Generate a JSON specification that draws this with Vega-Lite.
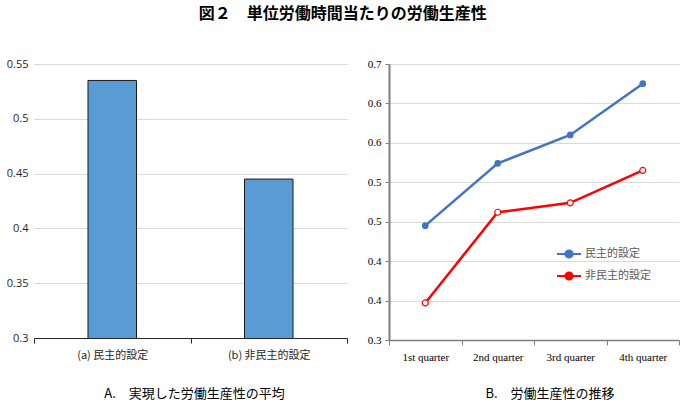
{
  "$schema": "https://vega.github.io/schema/vega-lite/v6.json",
  "padding": {"left": 6, "top": 6, "right": 4, "bottom": 4},
  "title": {
    "text": "図２　単位労働時間当たりの労働生産性",
    "font": "Noto Sans CJK JP",
    "fontSize": 16,
    "fontWeight": "bold",
    "color": "#000000",
    "anchor": "middle",
    "offset": 36
  },
  "datasets": {
    "avg": [
      {"setting": "(a) 民主的設定", "value": 0.535},
      {"setting": "(b) 非民主的設定", "value": 0.445}
    ],
    "trend": [
      {"quarter": "1st quarter", "setting": "民主的設定", "value": 0.495},
      {"quarter": "2nd quarter", "setting": "民主的設定", "value": 0.574},
      {"quarter": "3rd quarter", "setting": "民主的設定", "value": 0.61},
      {"quarter": "4th quarter", "setting": "民主的設定", "value": 0.675},
      {"quarter": "1st quarter", "setting": "非民主的設定", "value": 0.397},
      {"quarter": "2nd quarter", "setting": "非民主的設定", "value": 0.512},
      {"quarter": "3rd quarter", "setting": "非民主的設定", "value": 0.524},
      {"quarter": "4th quarter", "setting": "非民主的設定", "value": 0.565}
    ]
  },
  "spacing": 19,
  "hconcat": [
    {
      "width": 313,
      "height": 274,
      "data": {"name": "avg"},
      "title": {
        "text": "A.　実現した労働生産性の平均",
        "orient": "bottom",
        "anchor": "middle",
        "dx": 4,
        "offset": 28,
        "font": "Noto Sans CJK JP",
        "fontSize": 13,
        "fontWeight": "normal",
        "color": "#000000"
      },
      "mark": {
        "type": "bar",
        "width": {"band": 0.31},
        "color": "#5B9BD5",
        "stroke": "#1a1a1a",
        "strokeWidth": 1,
        "clip": true
      },
      "encoding": {
        "x": {
          "field": "setting",
          "type": "nominal",
          "title": null,
          "sort": null,
          "scale": {"paddingInner": 0, "paddingOuter": 0},
          "axis": {
            "labelAngle": 0,
            "labelFont": "Noto Sans CJK JP",
            "labelFontSize": 11,
            "labelColor": "#262626",
            "labelPadding": 6,
            "tickBand": "extent",
            "tickSize": 5,
            "tickColor": "#262626",
            "domainColor": "#262626",
            "grid": false
          }
        },
        "y": {
          "field": "value",
          "type": "quantitative",
          "title": null,
          "scale": {"domain": [0.3, 0.55], "zero": false, "nice": false},
          "axis": {
            "values": [0.3, 0.35, 0.4, 0.45, 0.5, 0.55],
            "format": ".2~f",
            "domain": false,
            "ticks": false,
            "labelFont": "Open Sans",
            "labelFontSize": 11,
            "labelColor": "#262626",
            "labelPadding": 6,
            "gridColor": "#d9d9d9"
          }
        }
      }
    },
    {
      "width": 290,
      "height": 276,
      "data": {"name": "trend"},
      "title": {
        "text": "B.　労働生産性の推移",
        "orient": "bottom",
        "anchor": "middle",
        "dx": 16,
        "offset": 26,
        "font": "Noto Sans CJK JP",
        "fontSize": 13,
        "fontWeight": "normal",
        "color": "#000000"
      },
      "encoding": {
        "x": {
          "field": "quarter",
          "type": "nominal",
          "title": null,
          "sort": null,
          "scale": {"paddingInner": 0, "paddingOuter": 0},
          "axis": {
            "labelAngle": 0,
            "labelFont": "Liberation Serif",
            "labelFontSize": 11,
            "labelColor": "#000000",
            "labelPadding": 6,
            "tickBand": "extent",
            "tickSize": 5,
            "tickColor": "#7f7f7f",
            "domainColor": "#7f7f7f",
            "domainWidth": 1.5,
            "grid": false
          }
        },
        "y": {
          "field": "value",
          "type": "quantitative",
          "title": null,
          "scale": {"domain": [0.35, 0.7], "zero": false, "nice": false},
          "axis": {
            "values": [0.35, 0.4, 0.45, 0.5, 0.55, 0.6, 0.65, 0.7],
            "labelExpr": "format(floor(datum.value * 10 + 0.001) / 10, '.1f')",
            "labelFont": "Liberation Serif",
            "labelFontSize": 11,
            "labelColor": "#000000",
            "labelPadding": 4,
            "tickSize": 4,
            "tickColor": "#7f7f7f",
            "domainColor": "#7f7f7f",
            "domainWidth": 2,
            "gridColor": "#d9d9d9"
          }
        },
        "color": {
          "field": "setting",
          "type": "nominal",
          "sort": null,
          "scale": {"domain": ["民主的設定", "非民主的設定"], "range": ["#4472C4", "#FF0000"]},
          "legend": {
            "title": null,
            "orient": "none",
            "legendX": 522,
            "legendY": 177,
            "symbolType": "M-1,0L-0.3,0M0.3,0L1,0M0.3,0A0.3,0.3,0,1,1,-0.3,0A0.3,0.3,0,1,1,0.3,0Z",
            "symbolSize": 576,
            "symbolStrokeWidth": 2,
            "labelFont": "Noto Sans CJK JP",
            "labelFontSize": 11,
            "labelColor": "#595959",
            "labelOffset": 3,
            "rowPadding": 1,
            "encode": {
              "symbols": {
                "update": {
                  "fill": {"signal": "datum.value === '民主的設定' ? '#4472C4' : '#ffffff'"},
                  "stroke": {"signal": "datum.value === '民主的設定' ? '#4472C4' : '#FF0000'"},
                  "fillOpacity": {"value": 1}
                }
              }
            }
          }
        }
      },
      "layer": [
        {"mark": {"type": "line", "strokeWidth": 2.5}},
        {
          "mark": {"type": "point", "filled": true, "size": 45, "opacity": 1},
          "transform": [{"filter": "datum.setting === '民主的設定'"}]
        },
        {
          "mark": {"type": "point", "filled": false, "fill": "#ffffff", "size": 36, "strokeWidth": 1.2, "opacity": 1},
          "transform": [{"filter": "datum.setting === '非民主的設定'"}]
        }
      ]
    }
  ],
  "config": {
    "view": {"stroke": null},
    "axis": {"labelFont": "Open Sans"}
  }
}
